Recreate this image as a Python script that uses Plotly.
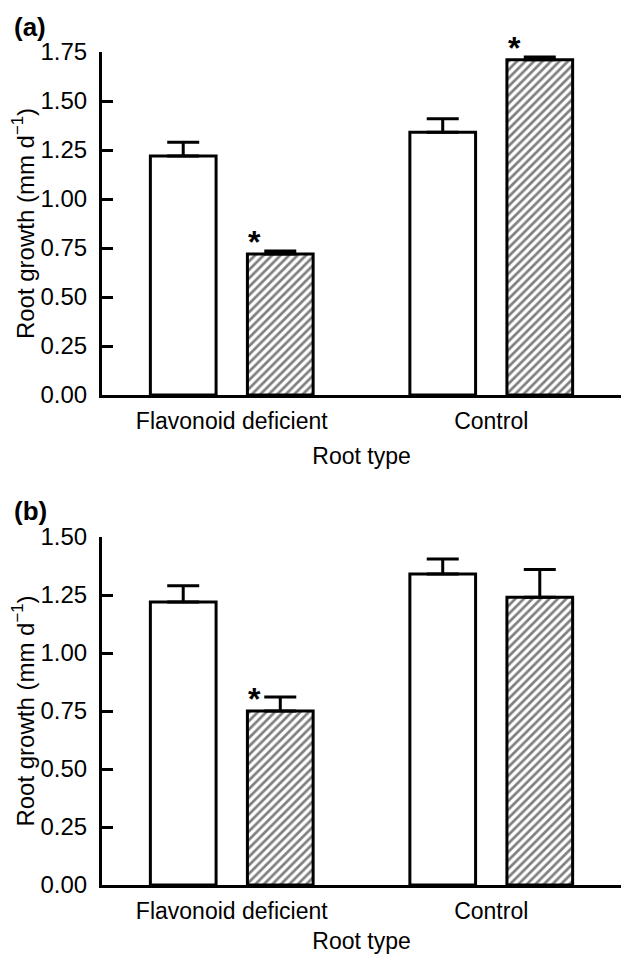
import plotly.graph_objects as go

categories = ["Flavonoid deficient", "Control"]

# Panel (a)
a_open = [1.22, 1.34]
a_open_err = [0.07, 0.07]
a_hatch = [0.72, 1.71]
a_hatch_err = [0.015, 0.015]
a_sig = [True, True]

# Panel (b)
b_open = [1.22, 1.34]
b_open_err = [0.07, 0.065]
b_hatch = [0.75, 1.24]
b_hatch_err = [0.06, 0.12]
b_sig = [True, False]

y_title = "Root growth (mm d<sup>−1</sup>)"
x_title = "Root type"

FONT = "Liberation Sans, Arial, sans-serif"
TICKFONT = "Liberation Sans Narrow, Arial Narrow, Liberation Sans, sans-serif"
LW = 3

fig = go.Figure()

def add_panel(xa, ya, opens, opens_err, hatch, hatch_err):
    fig.add_trace(go.Bar(
        x=categories, y=opens, xaxis=xa, yaxis=ya,
        marker=dict(color="white", line=dict(color="black", width=LW)),
        error_y=dict(type="data", array=opens_err, arrayminus=[0]*len(opens_err), symmetric=False,
                     color="black", thickness=LW, width=16),
        showlegend=False,
    ))
    fig.add_trace(go.Bar(
        x=categories, y=hatch, xaxis=xa, yaxis=ya,
        marker=dict(color="white", line=dict(color="black", width=LW),
                    pattern=dict(shape="/", fgcolor="black", bgcolor="white", size=6, solidity=0.45)),
        error_y=dict(type="data", array=hatch_err, arrayminus=[0]*len(hatch_err), symmetric=False,
                     color="black", thickness=LW, width=16),
        showlegend=False,
    ))

add_panel("x", "y", a_open, a_open_err, a_hatch, a_hatch_err)
add_panel("x2", "y2", b_open, b_open_err, b_hatch, b_hatch_err)

axis_common = dict(showline=True, linecolor="black", linewidth=LW, showgrid=False, zeroline=False)

xcommon = dict(axis_common, ticks="", tickfont=dict(family=FONT, size=23, color="black"),
               range=[-0.5, 1.5], automargin=False, ticklabelstandoff=3,
               title=dict(text=x_title, font=dict(family=FONT, size=23, color="black"), standoff=16))
ycommon = dict(axis_common, ticks="inside", ticklen=11, tickwidth=LW, tickcolor="black",
               tickfont=dict(family=TICKFONT, size=24, color="black"),
               tickformat=".2f", dtick=0.25, automargin=False, ticklabelstandoff=7,
               title=dict(text=y_title, font=dict(family=FONT, size=24, color="black"), standoff=0))

H = 954.0
fig.update_layout(
    width=622, height=954,
    margin=dict(l=102, r=1, t=0, b=0),
    paper_bgcolor="white", plot_bgcolor="white",
    barmode="group", bargap=0.252, bargroupgap=0.323,
    xaxis=dict(xcommon, anchor="y", domain=[0, 1]),
    yaxis=dict(ycommon, anchor="x", domain=[(H - 395) / H, (H - 52) / H], range=[0, 1.75]),
    xaxis2=dict(xcommon, anchor="y2", domain=[0, 1]),
    yaxis2=dict(ycommon, anchor="x2", domain=[(H - 885) / H, (H - 537) / H], range=[0, 1.5]),
    font=dict(family=FONT, color="black"),
)

# significance asterisks (placed just above the hatched bars)
def add_stars(xa, ya, hatch, sig):
    for cat, v, s in zip(categories, hatch, sig):
        if s:
            fig.add_annotation(x=cat, y=v, xref=xa, yref=ya, text="<b>*</b>", showarrow=False,
                               xshift=23, yshift=12, font=dict(family=FONT, size=32, color="black"),
                               xanchor="center", yanchor="middle")

add_stars("x", "y", a_hatch, a_sig)
add_stars("x2", "y2", b_hatch, b_sig)

for lbl, yy in [("(a)", 27), ("(b)", 511)]:
    fig.add_annotation(x=0, y=1 - yy / H, xref="paper", yref="paper", xanchor="left", yanchor="middle",
                       xshift=-90, text="<b>" + lbl + "</b>", showarrow=False,
                       font=dict(family=FONT, size=26, color="black"))

fig.write_html("out.html")
